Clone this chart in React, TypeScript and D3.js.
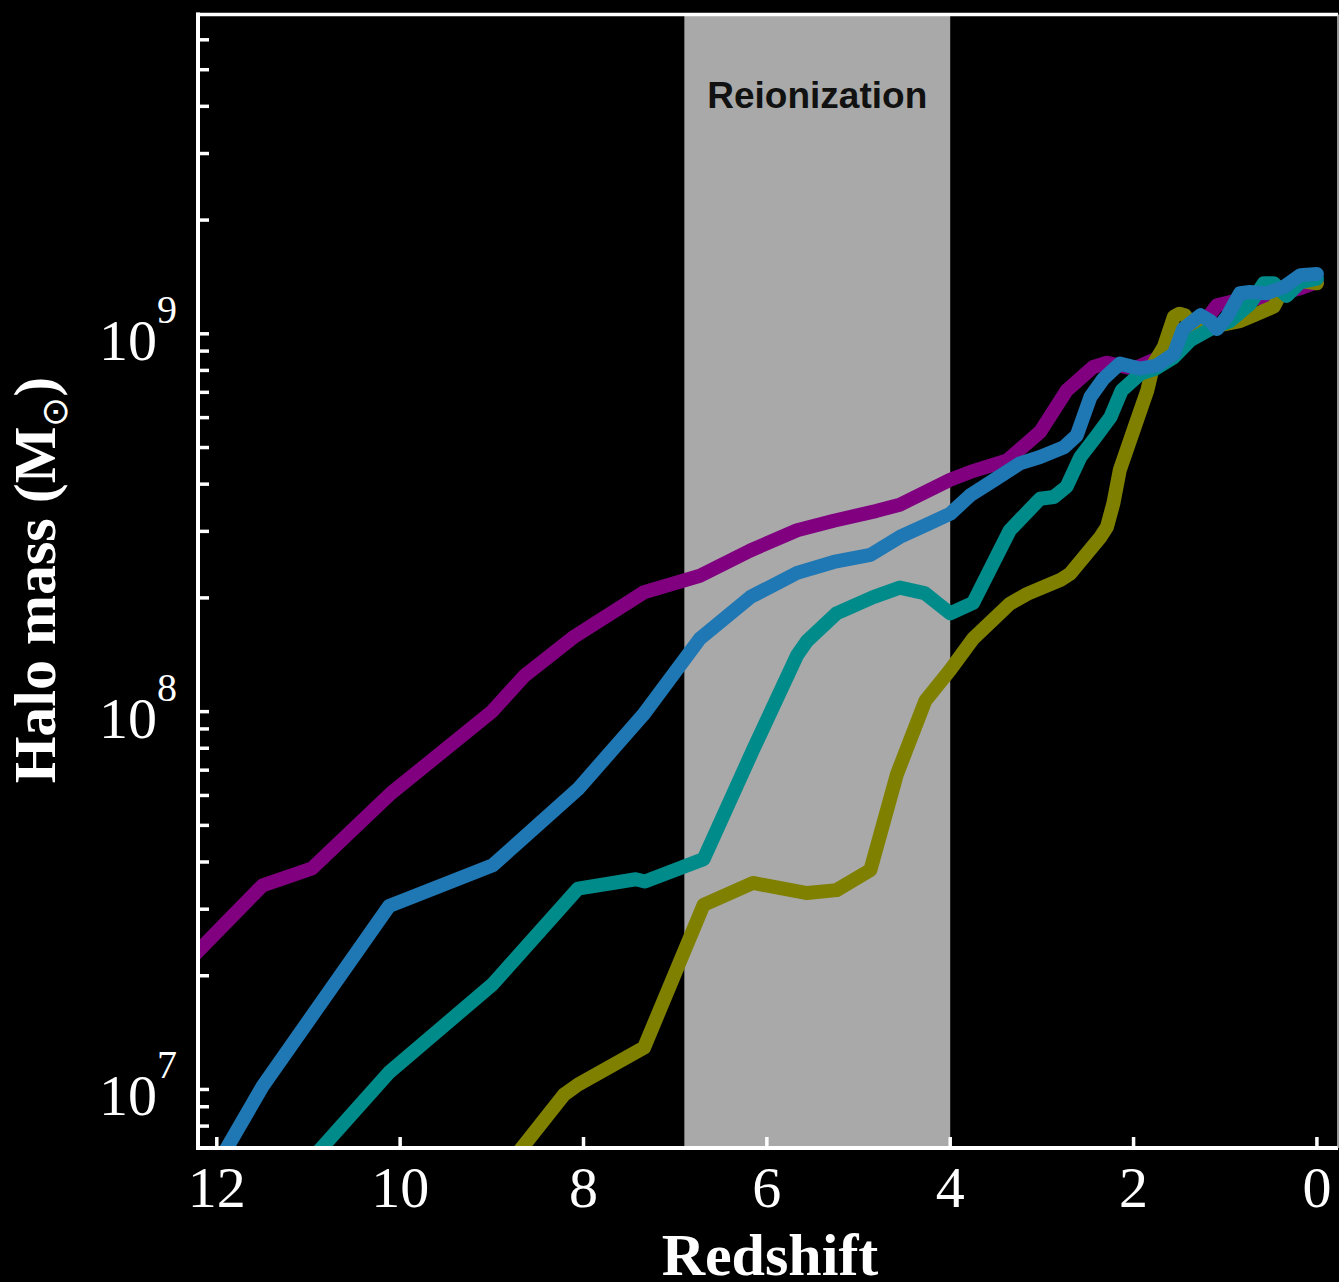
import React from 'react';
import * as d3 from 'd3';

const W = 1339;
const H = 1282;

// ---- data ----
const redshiftTicks = [12, 10, 8, 6, 4, 2, 0];
const massMajorTicks = [1e7, 1e8, 1e9];
const massTickExponents = ['7', '8', '9'];
const reionizationRange = [6.9, 4.0];
const reionizationLabel = 'Reionization';

const purpleZ = [12.3, 11.5, 10.96, 10.1, 9.0, 8.65, 8.1, 7.34, 6.73, 6.18, 5.67, 5.27, 4.8, 4.55, 4.0, 3.78, 3.38, 3.02, 2.73, 2.44, 2.29, 2.0, 1.71, 1.42, 1.27, 1.09, 0.91, 0.55, 0.18, 0.0];
const purpleM = [2.2e7, 3.47e7, 3.85e7, 6.08e7, 1.0e8, 1.24e8, 1.58e8, 2.07e8, 2.29e8, 2.67e8, 3.02e8, 3.2e8, 3.4e8, 3.53e8, 4.11e8, 4.31e8, 4.62e8, 5.5e8, 7.08e8, 8.17e8, 8.38e8, 8.09e8, 8.67e8, 9.62e8, 1.04e9, 1.19e9, 1.22e9, 1.25e9, 1.32e9, 1.37e9];

const oliveZ = [8.8, 8.21, 8.06, 7.34, 6.69, 6.15, 5.56, 5.24, 4.87, 4.58, 4.27, 4.0, 3.75, 3.35, 3.16, 2.8, 2.69, 2.36, 2.29, 2.22, 2.15, 2.0, 1.85, 1.78, 1.67, 1.56, 1.5, 1.44, 1.35, 1.1, 0.84, 0.69, 0.47, 0.36, 0.18, 0.0];
const oliveM = [6.4e6, 9.7e6, 1.03e7, 1.29e7, 3.08e7, 3.52e7, 3.31e7, 3.37e7, 3.81e7, 6.84e7, 1.07e8, 1.29e8, 1.56e8, 1.93e8, 2.05e8, 2.23e8, 2.32e8, 2.9e8, 3.08e8, 3.56e8, 4.36e8, 5.56e8, 7.08e8, 8.34e8, 9.23e8, 1.11e9, 1.13e9, 1.12e9, 1.04e9, 1.05e9, 1.08e9, 1.12e9, 1.18e9, 1.33e9, 1.38e9, 1.36e9];

const tealZ = [11.0, 10.12, 8.99, 8.06, 7.43, 7.33, 6.69, 6.15, 5.67, 5.56, 5.24, 4.84, 4.55, 4.28, 4.0, 3.75, 3.35, 3.02, 2.87, 2.73, 2.58, 2.4, 2.25, 2.13, 1.93, 1.76, 1.56, 1.38, 1.13, 0.95, 0.73, 0.58, 0.47, 0.33, 0.18, 0.0];
const tealM = [6.4e6, 1.11e7, 1.9e7, 3.4e7, 3.6e7, 3.55e7, 4.07e7, 7.93e7, 1.41e8, 1.54e8, 1.82e8, 2.01e8, 2.13e8, 2.06e8, 1.82e8, 1.94e8, 3.02e8, 3.66e8, 3.7e8, 3.94e8, 4.72e8, 5.38e8, 6.03e8, 7.08e8, 7.83e8, 8.09e8, 8.67e8, 9.62e8, 1.04e9, 1.08e9, 1.2e9, 1.36e9, 1.36e9, 1.26e9, 1.37e9, 1.4e9];

const blueZ = [12.05, 11.5, 10.12, 8.99, 8.06, 7.35, 6.73, 6.18, 5.67, 5.27, 4.87, 4.55, 4.25, 4.0, 3.78, 3.53, 3.24, 3.02, 2.76, 2.62, 2.47, 2.33, 2.15, 1.93, 1.75, 1.56, 1.46, 1.27, 1.16, 1.09, 0.98, 0.84, 0.73, 0.55, 0.36, 0.18, 0.0];
const blueM = [6.0e6, 1.02e7, 3.06e7, 3.92e7, 6.24e7, 9.8e7, 1.56e8, 2.01e8, 2.33e8, 2.49e8, 2.6e8, 2.9e8, 3.13e8, 3.34e8, 3.74e8, 4.09e8, 4.54e8, 4.72e8, 5.01e8, 5.38e8, 6.81e8, 7.6e8, 8.34e8, 8.09e8, 8.24e8, 8.85e8, 1.03e9, 1.12e9, 1.08e9, 1.03e9, 1.11e9, 1.28e9, 1.29e9, 1.28e9, 1.33e9, 1.43e9, 1.44e9];

const seriesZ = [purpleZ, oliveZ, tealZ, blueZ];
const seriesM = [purpleM, oliveM, tealM, blueM];
const seriesColors = ['#800080', '#808000', '#008b8b', '#1f77b4'];

// ---- layout ----
const LEFT = 198;
const RIGHT = 1338;
const TOP = 14.5;
const BOTTOM = 1148;

const SERIF = '"Liberation Serif", "Times New Roman", Times, serif';
const SANS = '"Liberation Sans", Arial, Helvetica, sans-serif';

export default function App() {
  const x = d3.scaleLinear().domain([12.205, -0.23]).range([LEFT, RIGHT]);
  const y = d3.scaleLog().domain([7e6, 7e9]).range([BOTTOM, TOP]);

  const line = d3
    .line<[number, number]>()
    .x((d) => x(d[0]))
    .y((d) => y(d[1]));

  const minorTicks = y
    .ticks()
    .filter((t) => y(t) > TOP + 2 && y(t) < BOTTOM - 2);

  const tickLen = 11;

  return (
    <svg
      width={W}
      height={H}
      style={{ position: 'absolute', left: 0, top: 0, display: 'block', background: '#000' }}
    >
      <rect x={0} y={0} width={W} height={H} fill="#000" />
      <defs>
        <clipPath id="plotclip">
          <rect x={LEFT} y={TOP} width={RIGHT - LEFT} height={BOTTOM - TOP} />
        </clipPath>
      </defs>

      {/* reionization band */}
      <rect
        x={x(reionizationRange[0])}
        y={TOP}
        width={x(reionizationRange[1]) - x(reionizationRange[0])}
        height={BOTTOM - TOP}
        fill="#a9a9a9"
      />
      <text
        x={(x(reionizationRange[0]) + x(reionizationRange[1])) / 2}
        y={108}
        textAnchor="middle"
        fontFamily={SANS}
        fontWeight="bold"
        fontSize={37}
        fill="#111"
      >
        {reionizationLabel}
      </text>

      {/* lines */}
      <g clipPath="url(#plotclip)">
        {seriesZ.map((zs, i) => {
          const pts: [number, number][] = zs.map((z, j) => [z, seriesM[i][j]]);
          return (
            <path
              key={i}
              d={line(pts) || ''}
              fill="none"
              stroke={seriesColors[i]}
              strokeWidth={14}
              strokeLinejoin="round"
              strokeLinecap="round"
            />
          );
        })}
      </g>

      {/* y ticks */}
      {minorTicks.map((t, i) => (
        <line
          key={'yt' + i}
          x1={LEFT}
          x2={LEFT + tickLen}
          y1={y(t)}
          y2={y(t)}
          stroke="#fff"
          strokeWidth={3.5}
        />
      ))}
      {/* x ticks */}
      {redshiftTicks.map((t) => (
        <line
          key={'xt' + t}
          x1={x(t)}
          x2={x(t)}
          y1={BOTTOM}
          y2={BOTTOM - tickLen}
          stroke="#fff"
          strokeWidth={3.5}
        />
      ))}

      {/* frame */}
      <line x1={LEFT} x2={LEFT} y1={TOP - 2} y2={BOTTOM + 2} stroke="#fff" strokeWidth={4} />
      <line x1={LEFT - 2} x2={RIGHT} y1={TOP} y2={TOP} stroke="#fff" strokeWidth={3.5} />
      <line x1={LEFT - 2} x2={RIGHT} y1={BOTTOM} y2={BOTTOM} stroke="#fff" strokeWidth={4} />
      <line x1={RIGHT} x2={RIGHT} y1={TOP} y2={BOTTOM} stroke="#ccc" strokeWidth={1.5} />

      {/* x tick labels */}
      {redshiftTicks.map((t) => (
        <text
          key={'xl' + t}
          x={x(t)}
          y={1207}
          textAnchor="middle"
          fontFamily={SERIF}
          fontSize={58}
          fill="#fff"
        >
          {t}
        </text>
      ))}

      {/* y tick labels */}
      {massMajorTicks.map((t, i) => (
        <text
          key={'yl' + i}
          x={177}
          y={y(t) + 26}
          textAnchor="end"
          fontFamily={SERIF}
          fontSize={58}
          fill="#fff"
        >
          10
          <tspan dy={-37} fontSize={40}>
            {massTickExponents[i]}
          </tspan>
        </text>
      ))}

      {/* axis titles */}
      <text
        x={770}
        y={1275}
        textAnchor="middle"
        fontFamily={SERIF}
        fontWeight="bold"
        fontSize={60}
        fill="#fff"
      >
        Redshift
      </text>
      <text
        transform="translate(55,580) rotate(-90)"
        textAnchor="middle"
        fontFamily={SERIF}
        fontWeight="bold"
        fontSize={60}
        fill="#fff"
      >
        Halo mass (M
        <tspan dy={12} fontSize={36} fontWeight="normal">
          ⊙
        </tspan>
        <tspan dy={-12}>)</tspan>
      </text>
    </svg>
  );
}
